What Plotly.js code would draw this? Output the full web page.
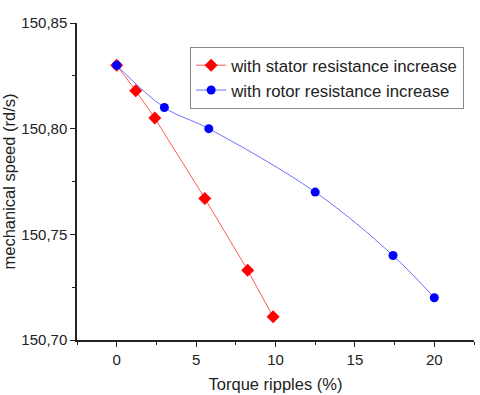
<!DOCTYPE html>
<html>
<head>
<meta charset="utf-8">
<script src="https://cdn.plot.ly/plotly-3.0.1.min.js"></script>
<style>html,body{margin:0;padding:0;background:#fff;}</style>
</head>
<body>
<div id="plot" style="width:480px;height:395px;"></div>
<script>
// stator resistance increase
const statorX = [0, 1.2, 2.4, 5.55, 8.25, 9.85];
const statorY = [150.830, 150.818, 150.805, 150.767, 150.733, 150.711];

// rotor resistance increase
const rotorX = [0, 3.0, 5.8, 12.5, 17.4, 20.0];
const rotorY = [150.830, 150.810, 150.800, 150.770, 150.740, 150.720];

const xTicks = [0, 5, 10, 15, 20];
const yTicks = [150.70, 150.75, 150.80, 150.85];

const trace1 = {
  x: statorX,
  y: statorY,
  mode: "lines+markers",
  name: "with stator resistance increase",
  line: { color: "#ff5a5a", width: 1 },
  marker: { color: "#ff0000", symbol: "diamond", size: 10 },
};

const trace2 = {
  x: rotorX,
  y: rotorY,
  mode: "lines+markers",
  name: "with rotor resistance increase",
  line: { color: "#6f6fff", width: 1, shape: "spline" },
  marker: { color: "#0000ff", symbol: "circle", size: 9 },
};

const layout = {
  width: 480,
  height: 395,
  margin: { l: 77, r: 6, t: 23, b: 55 },
  separators: ",.",
  font: { family: "Liberation Sans, Arial, sans-serif", size: 15, color: "#222" },
  showlegend: true,
  legend: {
    x: 0.285, y: 0.925, xanchor: "left", yanchor: "top",
    bordercolor: "#888", borderwidth: 1,
    font: { size: 16.8 },
    tracegroupgap: 0,
  },
  xaxis: {
    title: { text: "Torque ripples (%)", font: { size: 16.5 }, standoff: 12 },
    range: [-2.5, 22.5],
    tickvals: xTicks,
    ticks: "outside", ticklen: 5, tickwidth: 1, tickcolor: "#222",
    minor: { dtick: 2.5, ticks: "outside", ticklen: 3, tickcolor: "#222" },
    showgrid: false, zeroline: false,
    showline: true, linecolor: "#222", linewidth: 1.5,
  },
  yaxis: {
    title: { text: "mechanical speed (rd/s)", font: { size: 16.5 }, standoff: 10 },
    range: [150.70, 150.85],
    tickvals: yTicks,
    tickformat: ".2f",
    ticks: "outside", ticklen: 5, tickwidth: 1, tickcolor: "#222",
    minor: { dtick: 0.025, ticks: "outside", ticklen: 3, tickcolor: "#222" },
    showgrid: false, zeroline: false,
    showline: true, linecolor: "#222", linewidth: 1.5,
  },
  plot_bgcolor: "#fff",
  paper_bgcolor: "#fff",
};

Plotly.newPlot("plot", [trace1, trace2], layout, { displayModeBar: false });
</script>
</body>
</html>
